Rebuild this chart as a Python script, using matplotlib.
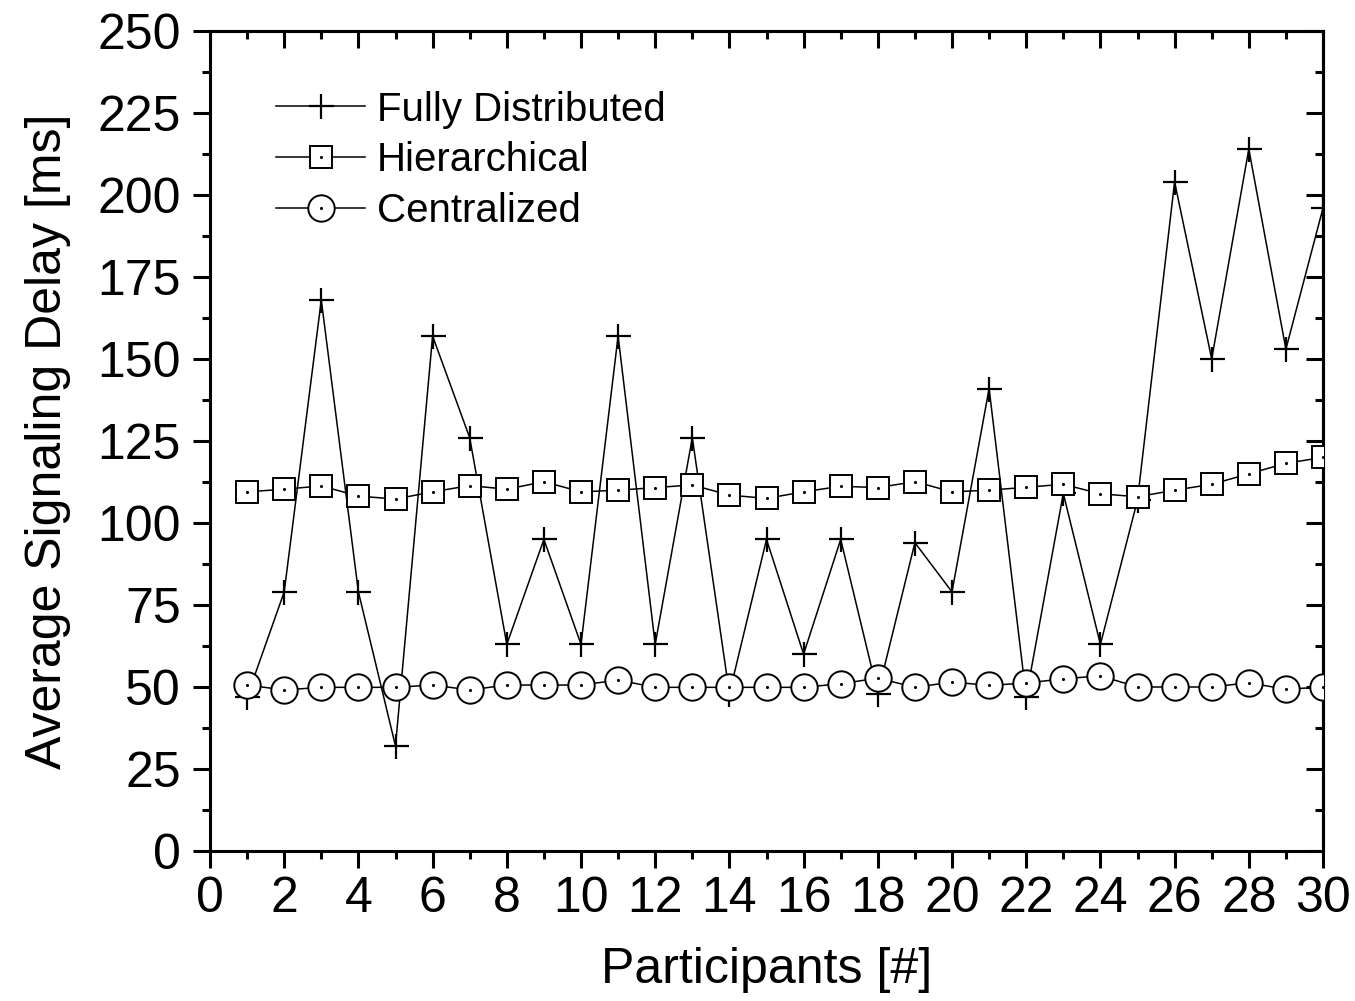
import numpy as np
import matplotlib
matplotlib.use('Agg')
import matplotlib.pyplot as plt
from matplotlib.ticker import MultipleLocator
from matplotlib.legend_handler import HandlerTuple

plt.rcParams['font.family'] = ['Liberation Sans', 'DejaVu Sans']

# Daten
participants = np.arange(1, 31)
fully_distributed = [47, 79, 168, 79, 32, 157, 126, 63, 95, 63,
                     157, 63, 126, 48, 95, 60, 95, 48, 94, 79,
                     141, 47, 109, 63, 107, 204, 150, 214, 153, 196]
hierarchical = [109.5, 110.3, 111.3, 108.2, 107.3, 109.5, 111.4, 110.3, 112.6, 109.5,
                110.0, 110.8, 111.6, 108.5, 107.5, 109.5, 111.2, 110.8, 112.6, 109.5,
                110.0, 110.9, 111.8, 108.9, 108.0, 110.0, 111.8, 115.0, 118.2, 120.0]
centralized = [50.6, 49.1, 49.9, 49.9, 49.9, 50.6, 49.1, 50.6, 50.6, 50.6,
               52.1, 49.9, 49.9, 49.9, 49.9, 49.9, 51.0, 52.7, 49.9, 51.5,
               50.5, 51.2, 52.5, 53.4, 50.0, 50.0, 50.0, 51.3, 49.3, 50.0]

fig = plt.figure(figsize=(13.55, 10.01), dpi=100)
ax = fig.add_axes([210 / 1355, 150 / 1001, 1113 / 1355, 820 / 1001])

lw = 1.1
l1, = ax.plot(participants, fully_distributed, color='k', lw=lw, marker='+',
              ms=18, mew=1.6, label='Fully Distributed', zorder=2)
l2, = ax.plot(participants, hierarchical, color='k', lw=lw, marker='s', ms=16,
              mfc='white', mec='k', mew=1.4, label='Hierarchical', zorder=3)
d2, = ax.plot(participants, hierarchical, ls='none', marker='.', ms=2.5, color='k', zorder=3.1)
l3, = ax.plot(participants, centralized, color='k', lw=lw, marker='o', ms=19,
              mfc='white', mec='k', mew=1.4, label='Centralized', zorder=4)
d3, = ax.plot(participants, centralized, ls='none', marker='.', ms=2.5, color='k', zorder=4.1)

ax.set_xlim(0, 30)
ax.set_ylim(0, 250)
ax.xaxis.set_major_locator(MultipleLocator(2))
ax.xaxis.set_minor_locator(MultipleLocator(1))
ax.yaxis.set_major_locator(MultipleLocator(25))
ax.yaxis.set_minor_locator(MultipleLocator(12.5))

for s in ax.spines.values():
    s.set_linewidth(2.2)

ax.tick_params(which='both', direction='out', top=False, right=False, width=2.2,
               labelsize=36, color='k')
ax.tick_params(which='major', length=12)
ax.tick_params(which='minor', length=6)
ax.tick_params(axis='y', which='major', pad=9)
ax.tick_params(axis='x', which='major', pad=6)

# Ticks innen oben und rechts
axt = ax.secondary_xaxis('top')
axt.xaxis.set_major_locator(MultipleLocator(2))
axt.xaxis.set_minor_locator(MultipleLocator(1))
axt.tick_params(which='both', direction='in', width=2.2, labeltop=False)
axt.tick_params(which='major', length=12)
axt.tick_params(which='minor', length=6)
axr = ax.secondary_yaxis('right')
axr.yaxis.set_major_locator(MultipleLocator(25))
axr.yaxis.set_minor_locator(MultipleLocator(12.5))
axr.tick_params(which='both', direction='in', width=2.2, labelright=False)
axr.tick_params(which='major', length=12)
axr.tick_params(which='minor', length=6)
for a in (axt, axr):
    for s in a.spines.values():
        s.set_linewidth(2.2)

ax.set_xlabel('Participants [#]', fontsize=36, labelpad=18)
ax.set_ylabel('Average Signaling Delay [ms]', fontsize=36, labelpad=19)

ax.legend([l1, (l2, d2), (l3, d3)],
          ['Fully Distributed', 'Hierarchical', 'Centralized'],
          handler_map={tuple: HandlerTuple(ndivide=1, pad=0)},
          loc='upper left', bbox_to_anchor=(0.045, 0.947), frameon=False,
          fontsize=29, handlelength=2.2, handletextpad=0.3, labelspacing=0.32,
          borderaxespad=0)

fig.savefig('out.png', dpi=100)
